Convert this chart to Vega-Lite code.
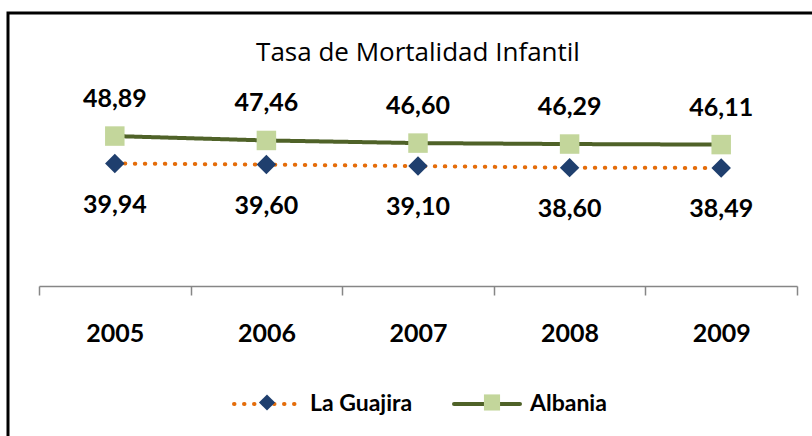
{
  "$schema": "https://vega.github.io/schema/vega-lite/v6.json",
  "width": 820,
  "height": 440,
  "autosize": {"type": "none"},
  "padding": {"left": 8, "top": 13, "right": 0, "bottom": 0},
  "background": "white",
  "title": {"text": "Tasa de Mortalidad Infantil", "font": "Open Sans", "fontSize": 26, "fontWeight": "normal", "color": "black", "anchor": "middle", "offset": -53},
  "data": {"values": [
    {"year": "2005", "series": "La Guajira", "value": 39.94},
    {"year": "2006", "series": "La Guajira", "value": 39.60},
    {"year": "2007", "series": "La Guajira", "value": 39.10},
    {"year": "2008", "series": "La Guajira", "value": 38.60},
    {"year": "2009", "series": "La Guajira", "value": 38.49},
    {"year": "2005", "series": "Albania", "value": 48.89},
    {"year": "2006", "series": "Albania", "value": 47.46},
    {"year": "2007", "series": "Albania", "value": 46.60},
    {"year": "2008", "series": "Albania", "value": 46.29},
    {"year": "2009", "series": "Albania", "value": 46.11}
  ]},
  "encoding": {
    "x": {"field": "year", "type": "ordinal", "scale": {"type": "band", "range": [31, 789], "paddingInner": 0, "paddingOuter": 0},
      "axis": {"title": null, "labelAngle": 0, "domainColor": "#868686", "domainWidth": 1.5, "tickColor": "#868686", "tickWidth": 1.5, "tickSize": 9, "tickBand": "extent", "labelFont": "Lato", "labelFontSize": 25, "labelFontWeight": "bold", "labelColor": "black", "labelPadding": 26, "offset": -167, "grid": false}},
    "y": {"field": "value", "type": "quantitative", "scale": {"domain": [0, 60], "range": [273, 89]}, "axis": null}
  },
  "layer": [
    {
      "mark": {"type": "line", "strokeWidth": 4, "strokeCap": "round"},
      "encoding": {
        "stroke": {"field": "series", "type": "nominal", "scale": {"domain": ["La Guajira", "Albania"], "range": ["#E46C0A", "#4F6228"]},
          "legend": {"orient": "none", "legendX": 224, "legendY": 356, "direction": "horizontal", "title": null, "symbolType": "stroke", "symbolSize": 4356, "symbolStrokeWidth": 4, "labelFont": "Lato", "labelFontSize": 23, "labelFontWeight": "bold", "labelColor": "black", "labelOffset": 8, "columnPadding": 33, "encode": {"symbols": {"update": {"strokeCap": {"value": "round"}}}}}},
        "strokeDash": {"field": "series", "type": "nominal", "scale": {"domain": ["La Guajira", "Albania"], "range": [[0.5, 9.5], [1, 0]]}}
      }
    },
    {
      "mark": {"type": "point", "filled": true, "size": 380, "opacity": 1},
      "encoding": {
        "shape": {"field": "series", "type": "nominal", "sort": "descending", "scale": {"range": ["diamond", "square"]},
          "legend": {"orient": "none", "legendX": 250, "legendY": 380, "direction": "horizontal", "title": null, "symbolSize": 260, "symbolOpacity": 1, "labelExpr": "''", "labelFontSize": 1, "labelOffset": 4, "columnPadding": 200}},
        "fill": {"field": "series", "type": "nominal", "sort": "descending", "scale": {"range": ["#1F3F6E", "#C3D69B"]}}
      }
    },
    {
      "transform": [{"filter": "datum.series === 'Albania'"}],
      "mark": {"type": "text", "dy": -37, "font": "Lato", "fontSize": 25, "fontWeight": "bold", "color": "black"},
      "encoding": {"text": {"field": "value", "type": "quantitative", "format": ".2f"}}
    },
    {
      "transform": [{"filter": "datum.series === 'La Guajira'"}],
      "mark": {"type": "text", "dy": 41, "font": "Lato", "fontSize": 25, "fontWeight": "bold", "color": "black"},
      "encoding": {"text": {"field": "value", "type": "quantitative", "format": ".2f"}}
    }
  ],
  "config": {
    "view": {"stroke": "black", "strokeWidth": 3},
    "locale": {"number": {"decimal": ",", "thousands": ".", "grouping": [3], "currency": ["", ""]}}
  }
}
